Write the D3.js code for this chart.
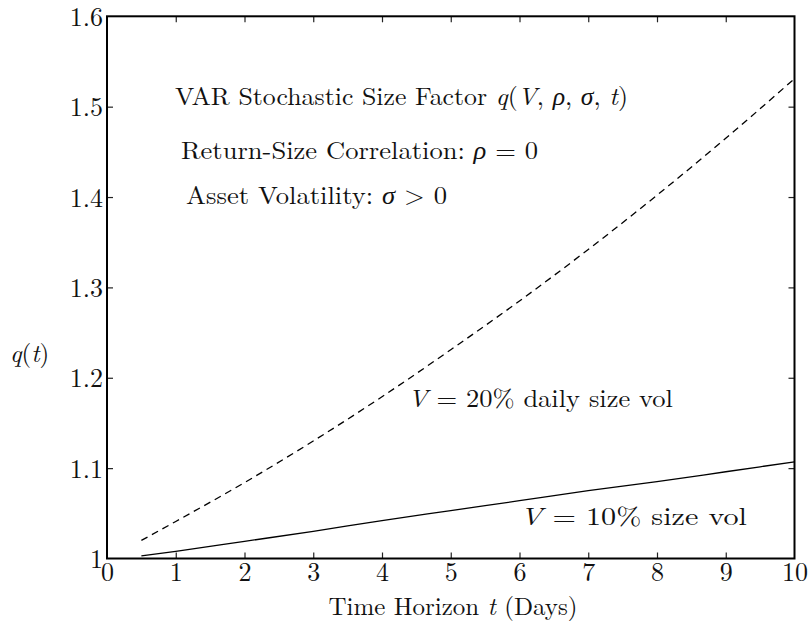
<!DOCTYPE html>
<html>
<head>
<meta charset="utf-8">
<script src="https://cdn.jsdelivr.net/npm/d3@7"></script>
<style>
  body { margin: 0; background: #fff; }
</style>
</head>
<body>
<svg id="chart" width="810" height="626"></svg>
<script>
// ---- data ----
const tValues   = [0.5, 1, 2, 3, 4, 5, 6, 7, 8, 9, 10];
const qVol20    = [1.020, 1.041, 1.084, 1.130, 1.179, 1.231, 1.285, 1.342, 1.402, 1.465, 1.531];
const qVol10    = [1.003, 1.008, 1.019, 1.030, 1.042, 1.053, 1.064, 1.075, 1.085, 1.096, 1.107];
const xTicks    = [0, 1, 2, 3, 4, 5, 6, 7, 8, 9, 10];
const yTicks    = [1.0, 1.1, 1.2, 1.3, 1.4, 1.5, 1.6];
const yTickLabels = ["1", "1.1", "1.2", "1.3", "1.4", "1.5", "1.6"];

const FONT = "'Latin Modern Roman', 'CMU Serif', 'Liberation Serif', serif";
const GREEK = "'Liberation Serif', 'DejaVu Serif', serif";
const svg = d3.select("#chart");
const W = 810, H = 626;
const L = 107, R = 794.5, T = 16.3, B = 558.5;

const x = d3.scaleLinear().domain([0, 10]).range([L, R]);
const y = d3.scaleLinear().domain([1.0, 1.6]).range([B, T]);

svg.append("rect").attr("width", W).attr("height", H).attr("fill", "#fff");

const tickLen = 6;
const innerX = xTicks.filter(d => d > 0 && d < 10);
const innerY = yTicks.filter(d => d > 1.0 && d < 1.6);

const gB = svg.append("g").attr("transform", `translate(0,${B})`)
  .call(d3.axisBottom(x).tickValues(xTicks).tickSizeInner(-tickLen).tickSizeOuter(0).tickPadding(0)
    .tickFormat(d => d3.format("d")(d)));
gB.attr("font-family", FONT).attr("font-size", 26);
gB.select(".domain").remove();
gB.selectAll(".tick line").filter(d => d === 0 || d === 10).remove();
gB.selectAll(".tick text").attr("y", 22).attr("dy", 0).attr("fill", "#111");

const gT = svg.append("g").attr("transform", `translate(0,${T})`)
  .call(d3.axisTop(x).tickValues(innerX).tickSizeInner(-tickLen).tickSizeOuter(0).tickFormat(""));
gT.select(".domain").remove();

const gL = svg.append("g").attr("transform", `translate(${L},0)`)
  .call(d3.axisLeft(y).tickValues(yTicks).tickSizeInner(-tickLen).tickSizeOuter(0).tickPadding(0)
    .tickFormat((d, i) => yTickLabels[i]));
gL.attr("font-family", FONT).attr("font-size", 26);
gL.select(".domain").remove();
gL.selectAll(".tick line").filter(d => d === 1.0 || d === 1.6).remove();
gL.selectAll(".tick text").attr("x", -4).attr("dy", 0).attr("y", 9).attr("fill", "#111");

const gR = svg.append("g").attr("transform", `translate(${R},0)`)
  .call(d3.axisRight(y).tickValues(innerY).tickSizeInner(-tickLen).tickSizeOuter(0).tickFormat(""));
gR.select(".domain").remove();

svg.selectAll(".tick line").attr("stroke", "#222").attr("stroke-width", 1.2);

// frame
svg.append("rect").attr("x", L).attr("y", T).attr("width", R - L).attr("height", B - T)
  .attr("fill", "none").attr("stroke", "#000").attr("stroke-width", 2);

// curves
const line = d3.line().x((d, i) => x(tValues[i])).y(d => y(d)).curve(d3.curveMonotoneX);
svg.append("path").datum(qVol20).attr("d", line).attr("fill", "none")
  .attr("stroke", "#000").attr("stroke-width", 1.3).attr("stroke-dasharray", "7,5");
svg.append("path").datum(qVol10).attr("d", line).attr("fill", "none")
  .attr("stroke", "#000").attr("stroke-width", 1.3);

// text helper: segments [text, style] (0 roman, 1 italic, 2 greek italic)
function mtext(xp, yp, segs, size, len, anchor) {
  const t = svg.append("text").attr("x", xp).attr("y", yp)
    .attr("font-size", size).attr("font-family", FONT).attr("fill", "#111")
    .attr("text-anchor", anchor || "start");
  segs.forEach(s => {
    const sp = t.append("tspan").text(s[0]).attr("font-style", s[1] ? "italic" : "normal");
    if (s[1] === 2) sp.attr("font-family", GREEK);
  });
  if (len) t.attr("textLength", len).attr("lengthAdjust", "spacingAndGlyphs");
  return t;
}

mtext(175, 105, [["VAR Stochastic Size Factor ", 0], ["q", 1], ["(", 0], ["V", 1], [", ", 0], ["ρ", 2], [", ", 0], ["σ", 2], [", ", 0], ["t", 1], [")", 0]], 25, 453);
mtext(181, 159, [["Return-Size Correlation:  ", 0], ["ρ", 2], [" = 0", 0]], 25, 357);
mtext(186, 204, [["Asset Volatility:  ", 0], ["σ", 2], [" > 0", 0]], 25, 261);
mtext(408, 407, [["V", 1], [" = 20% daily size vol", 0]], 25, 265);
mtext(520, 525, [["V", 1], [" = 10% size vol", 0]], 25, 227);

// axis labels
mtext(10, 362, [["q", 1], ["(", 0], ["t", 1], [")", 0]], 25);
mtext(453, 615, [["Time Horizon ", 0], ["t", 1], [" (Days)", 0]], 25, null, "middle");
</script>
</body>
</html>
